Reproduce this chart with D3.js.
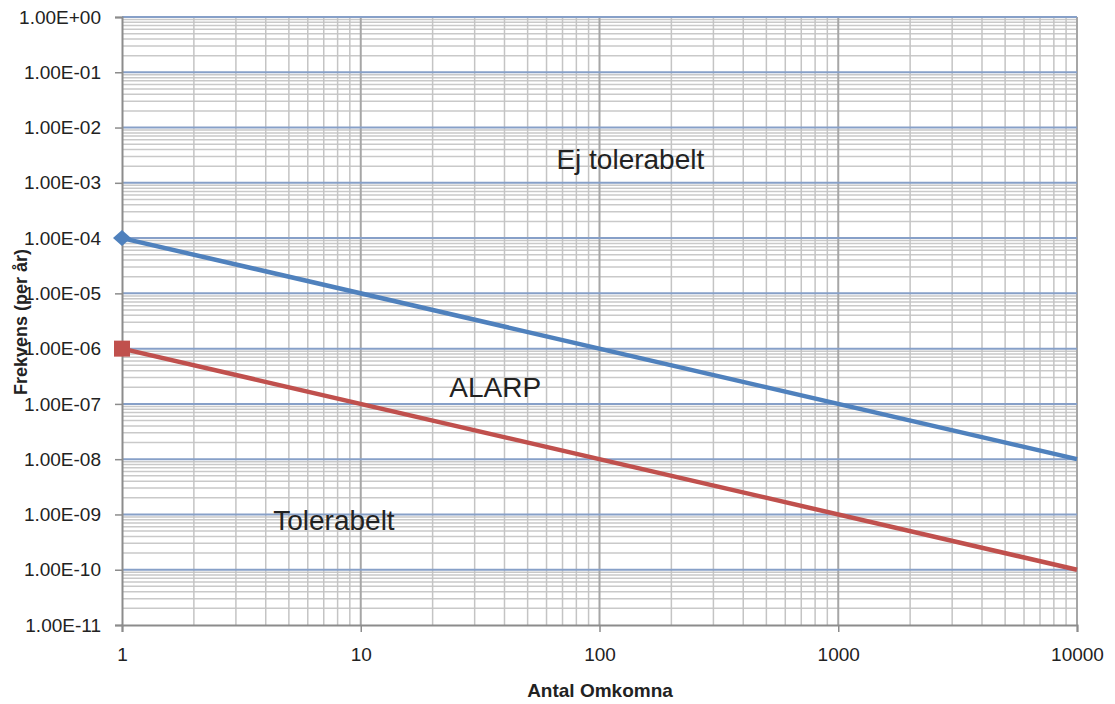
<!DOCTYPE html>
<html><head><meta charset="utf-8">
<script src="https://cdn.jsdelivr.net/npm/d3@7"></script>
<style>body{margin:0;background:#fff;} text{font-family:"Liberation Sans",Arial,sans-serif;fill:#222;}</style>
</head><body>
<svg id="c" width="1115" height="704"></svg>
<script>
const xTicks = [1, 10, 100, 1000, 10000];
const yTickExps = [0, -1, -2, -3, -4, -5, -6, -7, -8, -9, -10, -11];
const blueX = [1, 10000];
const blueY = [1e-4, 1e-8];
const redX = [1, 10000];
const redY = [1e-6, 1e-10];
const labels = [
  {text: "Ej tolerabelt", x: 66, y: 1.8e-3},
  {text: "ALARP", x: 23.5, y: 1.35e-7},
  {text: "Tolerabelt", x: 4.3, y: 5.2e-10}
];

const svg = d3.select("#c");
const L = 122, R = 1077, T = 17, B = 625;
const x = d3.scaleLog().domain([1, 10000]).range([L, R]);
const y = d3.scaleLog().domain([1e-11, 1]).range([B, T]);

const g = svg.append("g");
for (let e = -11; e < 0; e++) {
  for (let m = 2; m <= 9; m++) {
    const v = m * Math.pow(10, e);
    g.append("line").attr("x1", L).attr("x2", R).attr("y1", y(v)).attr("y2", y(v))
      .attr("stroke", "#c9c9c9").attr("stroke-width", 1.5);
  }
}
for (let e = 0; e < 4; e++) {
  for (let m = 2; m <= 9; m++) {
    const v = m * Math.pow(10, e);
    g.append("line").attr("x1", x(v)).attr("x2", x(v)).attr("y1", T).attr("y2", B)
      .attr("stroke", "#c4c4c4").attr("stroke-width", 1.5);
  }
}
xTicks.slice(1).forEach(v => {
  g.append("line").attr("x1", x(v)).attr("x2", x(v)).attr("y1", T).attr("y2", B)
    .attr("stroke", "#a6a6a6").attr("stroke-width", 2);
});
yTickExps.forEach(e => {
  if (e === -11) return;
  const v = Math.pow(10, e);
  g.append("line").attr("x1", L).attr("x2", R).attr("y1", y(v)).attr("y2", y(v))
    .attr("stroke", "#87a0c8").attr("stroke-width", 2);
});

const fmtY = e => "1.00E" + (e >= 0 ? "+" : "-") + String(Math.abs(e)).padStart(2, "0");
const yAxis = d3.axisLeft(y).tickValues(yTickExps.map(e => Math.pow(10, e)))
  .tickFormat(v => fmtY(Math.round(Math.log10(v)))).tickSize(7).tickPadding(14);
const ya = svg.append("g").attr("transform", `translate(${L},0)`).call(yAxis);
ya.select(".domain").attr("stroke", "#8c8c8c").attr("stroke-width", 2);
ya.selectAll(".tick line").attr("stroke", "#8c8c8c").attr("stroke-width", 1.5);
ya.selectAll(".tick text").style("font-size", "19px").attr("fill", "#222");

const xAxis = d3.axisBottom(x).tickValues(xTicks).tickFormat(d3.format("d")).tickSize(7).tickPadding(16);
const xa = svg.append("g").attr("transform", `translate(0,${B})`).call(xAxis);
xa.select(".domain").attr("stroke", "#8c8c8c").attr("stroke-width", 2);
xa.selectAll(".tick line").attr("stroke", "#8c8c8c").attr("stroke-width", 1.5);
xa.selectAll(".tick text").style("font-size", "19px").attr("fill", "#222");

const line = d3.line().x(d => x(d[0])).y(d => y(d[1]));
svg.append("path").datum(blueX.map((v, i) => [v, blueY[i]])).attr("d", line)
  .attr("fill", "none").attr("stroke", "#4f81bd").attr("stroke-width", 4.5);
svg.append("path").datum(redX.map((v, i) => [v, redY[i]])).attr("d", line)
  .attr("fill", "none").attr("stroke", "#c0504d").attr("stroke-width", 4.5);
const bx = x(blueX[0]), by = y(blueY[0]);
svg.append("path").attr("d", `M${bx - 9},${by} L${bx},${by - 8} L${bx + 9},${by} L${bx},${by + 8} Z`)
  .attr("fill", "#4f81bd");
svg.append("rect").attr("x", x(redX[0]) - 8).attr("y", y(redY[0]) - 8).attr("width", 16).attr("height", 16)
  .attr("fill", "#c0504d");

labels.forEach(l => {
  svg.append("text").attr("x", x(l.x)).attr("y", y(l.y)).text(l.text)
    .style("font-size", "28px");
});

svg.append("text").attr("x", 600).attr("y", 697).attr("text-anchor", "middle")
  .style("font-size", "19px").style("font-weight", "bold").text("Antal Omkomna");
svg.append("text").attr("transform", "translate(27,322) rotate(-90)").attr("text-anchor", "middle")
  .style("font-size", "18px").style("font-weight", "bold").text("Frekvens (per år)");
</script>
</body></html>
